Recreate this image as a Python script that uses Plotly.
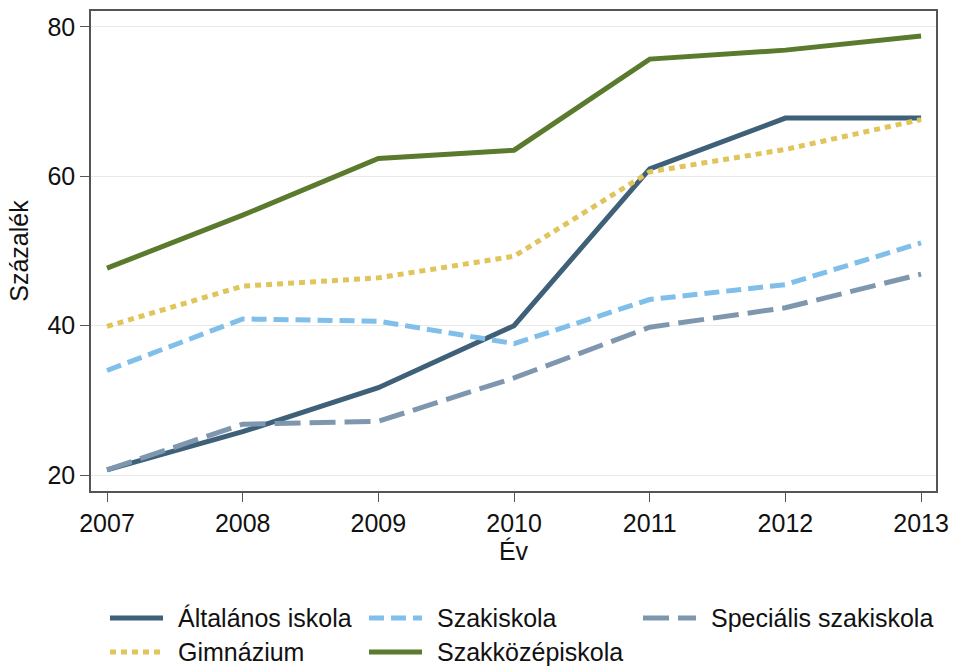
import plotly.graph_objects as go

# Share of students (%) by school type, 2007-2013
years = [2007, 2008, 2009, 2010, 2011, 2012, 2013]
altalanos = [20.7, 25.8, 31.7, 40.0, 61.0, 67.8, 67.8]
szakiskola = [34.0, 40.9, 40.6, 37.6, 43.5, 45.5, 51.1]
specialis = [20.7, 26.8, 27.2, 33.0, 39.8, 42.4, 46.9]
gimnazium = [39.9, 45.3, 46.4, 49.3, 60.6, 63.6, 67.6]
szakkozep = [47.7, 54.8, 62.4, 63.5, 75.7, 76.9, 78.8]

y_ticks = [20, 40, 60, 80]

FONT = "Liberation Sans, Arial, sans-serif"
FS = 25

# name, values, colour, dash, legend column, legend row
series = [
    ("Általános iskola", altalanos, "#3e6079", "solid", 0, 0),
    ("Szakiskola", szakiskola, "#7fbfea", "15px,7px", 1, 0),
    ("Speciális szakiskola", specialis, "#7f97ae", "26px,9px", 2, 0),
    ("Gimnázium", gimnazium, "#e0c45c", "6px,5px", 0, 1),
    ("Szakközépiskola", szakkozep, "#5a7a2d", "solid", 1, 1),
]

W, H = 953, 666
ML, MR, MT, MB = 91, 17, 11, 175
PW, PH = W - ML - MR, H - MT - MB

fig = go.Figure()
for name, vals, color, dash, _, _ in series:
    fig.add_trace(go.Scatter(
        x=years, y=vals, name=name, mode="lines",
        line=dict(color=color, width=5, dash=dash),
        showlegend=False,
    ))

# Legend drawn below the plot: three columns, two rows
col_px = [110, 369, 643]
row_px = [618, 652]
sample_len = 53
def px_to_paper(px, py):
    return (px - ML) / PW, (H - MB - py) / PH

for name, vals, color, dash, c, r in series:
    x0, y0 = px_to_paper(col_px[c], row_px[r])
    x1, _ = px_to_paper(col_px[c] + sample_len, row_px[r])
    xt, _ = px_to_paper(col_px[c] + sample_len + 13, row_px[r])
    fig.add_shape(type="line", xref="paper", yref="paper",
                  x0=x0, x1=x1, y0=y0, y1=y0,
                  line=dict(color=color, width=5, dash=dash))
    fig.add_annotation(xref="paper", yref="paper", x=xt, y=y0,
                       text=name, showarrow=False,
                       xanchor="left", yanchor="middle",
                       font=dict(family=FONT, size=FS, color="#111"))

axis_common = dict(
    showline=True, linecolor="#555", linewidth=1.5, mirror=True,
    ticks="outside", ticklen=9, tickwidth=1.2, tickcolor="#555",
    tickfont=dict(family=FONT, size=FS, color="#111"),
    zeroline=False,
)

fig.update_xaxes(
    range=[2006.882, 2013.11], tickvals=years,
    showgrid=False,
    title=dict(text="Év", font=dict(family=FONT, size=FS, color="#111"), standoff=6),
    **axis_common,
)
fig.update_yaxes(
    range=[17.86, 82.14], tickvals=y_ticks,
    showgrid=True, gridcolor="#e9e9e9", gridwidth=1,
    title=dict(text="Százalék", font=dict(family=FONT, size=FS, color="#111"), standoff=12),
    **axis_common,
)

fig.update_layout(
    width=W, height=H,
    margin=dict(l=ML, r=MR, t=MT, b=MB, autoexpand=False),
    paper_bgcolor="white", plot_bgcolor="white",
    font=dict(family=FONT, size=FS, color="#111"),
)

fig.write_html("out.html")
